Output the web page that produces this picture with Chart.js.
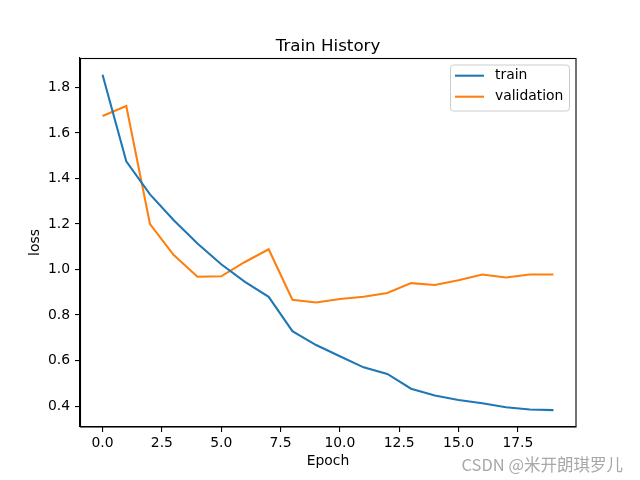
<!DOCTYPE html>
<html>
<head>
<meta charset="utf-8">
<title>Train History</title>
<script src="https://cdn.jsdelivr.net/npm/chart.js@4.4.0/dist/chart.umd.min.js"></script>
<style>
    body { margin: 0; background: #ffffff; }
    #historyChart { display: block; }
</style>
</head>
<body>
<canvas id="historyChart" width="640" height="480"></canvas>
<script>
// values
var epochs = [0, 1, 2, 3, 4, 5, 6, 7, 8, 9, 10, 11, 12, 13, 14, 15, 16, 17, 18, 19];
var trainLoss = [1.855, 1.475, 1.330, 1.216, 1.114, 1.023, 0.946, 0.880, 0.729, 0.668,
                 0.619, 0.570, 0.541, 0.476, 0.446, 0.427, 0.412, 0.395, 0.385, 0.382];
var valLoss = [1.674, 1.718, 1.199, 1.063, 0.968, 0.970, 1.033, 1.089, 0.867, 0.855,
               0.870, 0.880, 0.897, 0.940, 0.932, 0.953, 0.978, 0.965, 0.978, 0.978];
var xTicks = [0, 2.5, 5, 7.5, 10, 12.5, 15, 17.5];
var yTicks = [0.4, 0.6, 0.8, 1.0, 1.2, 1.4, 1.6, 1.8];
var seriesNames = ["train", "validation"];
var seriesColors = ["#1f77b4", "#ff7f0e"];

var baseFont = "'DejaVu Sans', sans-serif";

function toPoints(values) {
    return values.map(function (v, i) {
        return { x: epochs[i], y: v };
    });
}

// title, frame, legend and watermark drawn after the datasets
var decorations = {
    id: "decorations",
    afterDraw: function (chart) {
        var ctx = chart.ctx;
        var area = chart.chartArea;
        ctx.save();

        // top and right spines
        ctx.strokeStyle = "#000000";
        ctx.lineWidth = 1.1;
        ctx.strokeRect(area.left + 0.5, area.top + 0.5, area.right - area.left - 0.5, area.bottom - area.top - 0.5);

        // title
        ctx.fillStyle = "#000000";
        ctx.font = "16.7px " + baseFont;
        ctx.textAlign = "center";
        ctx.textBaseline = "alphabetic";
        ctx.fillText("Train History", (area.left + area.right) / 2, 51);

        // legend box
        var bx = 450.5, by = 65, bw = 119, bh = 46, r = 3;
        ctx.beginPath();
        ctx.moveTo(bx + r, by);
        ctx.arcTo(bx + bw, by, bx + bw, by + bh, r);
        ctx.arcTo(bx + bw, by + bh, bx, by + bh, r);
        ctx.arcTo(bx, by + bh, bx, by, r);
        ctx.arcTo(bx, by, bx + bw, by, r);
        ctx.closePath();
        ctx.fillStyle = "rgba(255,255,255,0.8)";
        ctx.fill();
        ctx.strokeStyle = "#cccccc";
        ctx.lineWidth = 1;
        ctx.stroke();

        ctx.font = "13.9px " + baseFont;
        ctx.textAlign = "left";
        ctx.textBaseline = "middle";
        chart.data.datasets.forEach(function (ds, i) {
            var ly = 75.7 + i * 21;
            ctx.strokeStyle = ds.borderColor;
            ctx.lineWidth = 2.08;
            ctx.beginPath();
            ctx.moveTo(455, ly);
            ctx.lineTo(484, ly);
            ctx.stroke();
            ctx.fillStyle = "#000000";
            ctx.fillText(ds.label, 495, ly);
        });

        // watermark
        ctx.font = "16.5px 'Noto Sans CJK SC', sans-serif";
        ctx.fillStyle = "#a8a8a8";
        ctx.textAlign = "right";
        ctx.textBaseline = "middle";
        ctx.fillText("CSDN @米开朗琪罗儿", 623, 465);

        ctx.restore();
    }
};

var ctx = document.getElementById("historyChart").getContext("2d");
var historyChart = new Chart(ctx, {
    type: "line",
    data: {
        datasets: [{
            label: seriesNames[0],
            data: toPoints(trainLoss),
            borderColor: seriesColors[0],
            borderWidth: 2.08,
            pointRadius: 0,
            tension: 0,
            fill: false
        }, {
            label: seriesNames[1],
            data: toPoints(valLoss),
            borderColor: seriesColors[1],
            borderWidth: 2.08,
            pointRadius: 0,
            tension: 0,
            fill: false
        }]
    },
    options: {
        responsive: false,
        animation: false,
        devicePixelRatio: 1,
        layout: {
            padding: { top: 58, right: 64, left: 0, bottom: 0 }
        },
        plugins: {
            legend: { display: false },
            title: { display: false },
            tooltip: { enabled: false }
        },
        scales: {
            x: {
                type: "linear",
                min: -0.95,
                max: 19.95,
                afterFit: function (scale) { scale.height = 53; },
                afterBuildTicks: function (scale) {
                    scale.ticks = xTicks.map(function (v) { return { value: v }; });
                },
                ticks: {
                    color: "#000000",
                    font: { family: baseFont, size: 13.9 },
                    padding: 3,
                    maxRotation: 0,
                    autoSkip: false,
                    callback: function (value) { return value.toFixed(1); }
                },
                grid: {
                    drawOnChartArea: false,
                    tickLength: 5,
                    tickColor: "#000000",
                    lineWidth: 1.1
                },
                border: { display: true, color: "#000000", width: 1.1 },
                title: {
                    display: true,
                    text: "Epoch",
                    color: "#000000",
                    font: { family: baseFont, size: 13.9 },
                    padding: { top: 0, bottom: 10 }
                }
            },
            y: {
                type: "linear",
                min: 0.308,
                max: 1.929,
                afterFit: function (scale) { scale.width = 80; },
                afterBuildTicks: function (scale) {
                    scale.ticks = yTicks.map(function (v) { return { value: v }; });
                },
                ticks: {
                    color: "#000000",
                    font: { family: baseFont, size: 13.9 },
                    padding: 5,
                    autoSkip: false,
                    callback: function (value) { return value.toFixed(1); }
                },
                grid: {
                    drawOnChartArea: false,
                    tickLength: 5,
                    tickColor: "#000000",
                    lineWidth: 1.1
                },
                border: { display: true, color: "#000000", width: 1.1 },
                title: {
                    display: true,
                    text: "loss",
                    color: "#000000",
                    font: { family: baseFont, size: 13.9 },
                    padding: { top: 27.5, bottom: 0 }
                }
            }
        }
    },
    plugins: [decorations]
});
</script>
</body>
</html>
